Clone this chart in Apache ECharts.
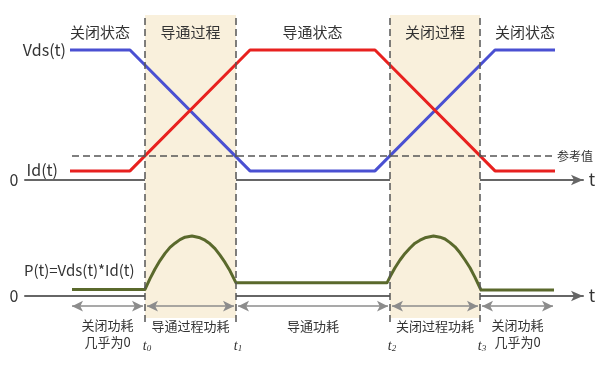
<!DOCTYPE html>
<html>
<head>
<meta charset="utf-8">
<script src="https://cdn.jsdelivr.net/npm/echarts@6/dist/echarts.min.js"></script>
<style>html,body{margin:0;padding:0;background:#fff}#c{width:604px;height:380px}</style>
</head>
<body>
<div id="c"></div>
<script>
// ---- data (time in arbitrary units, levels normalised) ----
const waveT = [4.5, 10.5, 22.5, 35, 47, 53];
const vdsV = [1, 1, 0.07, 0.07, 1, 1];
const idV = [0.07, 0.07, 1, 1, 0.07, 0.07];
const refLevel = 0.185;
const refSpan = [4.7, 52.8];
const switchT = [12, 21.1, 36.5, 45.5];
const switchNames = ['0', '1', '2', '3'];
const powerT = [4.7, 12, 12.5, 13, 13.5, 14, 14.5, 15, 15.5, 16, 16.7, 17.5, 18, 18.5, 19, 19.5, 20, 20.5, 21.1,
  36.2, 36.5, 37, 37.5, 38, 38.5, 39, 39.5, 40, 40.85, 41.5, 42, 42.5, 43, 43.5, 44, 44.5, 45, 45.6, 52.9];
const powerV = [0.11, 0.11, 0.29, 0.45, 0.59, 0.71, 0.81, 0.88, 0.94, 0.98, 1.0, 0.97, 0.93, 0.87, 0.79, 0.68, 0.56, 0.42, 0.22,
  0.22, 0.32, 0.47, 0.60, 0.71, 0.80, 0.88, 0.93, 0.97, 1.0, 0.98, 0.95, 0.89, 0.82, 0.72, 0.60, 0.47, 0.31, 0.10, 0.10];
const stateNames = ['关闭状态', '导通过程', '导通状态', '关闭过程', '关闭状态'];
const stateSpans = [[4.5, 10.5], [12, 21.1], [22.5, 35], [36.5, 45.5], [47, 53]];
const lossNames = ['关闭功耗\n几乎为0', '导通过程功耗', '导通功耗', '关闭过程功耗', '关闭功耗\n几乎为0'];
const lossEdges = [4.5, 12, 21.1, 36.5, 45.5, 53];
const shadedPhases = [[12, 21.1], [36.5, 45.5]];

const FONT = '"Noto Sans CJK SC", "Noto Sans", sans-serif';
const chart = echarts.init(document.getElementById('c'), null, {renderer: 'canvas'});
const XMAX = 55.8;
const axisLineStyle = {onZero: true, symbol: ['none', 'arrow'], symbolSize: [8, 12], lineStyle: {color: '#666', width: 2}};

chart.setOption({
  animation: false,
  grid: [
    {left: 25, right: 21, top: 11, bottom: 161},
    {left: 25, right: 21, top: 224, bottom: 24},
    {left: 25, right: 21, top: 15, bottom: 58}
  ],
  xAxis: [
    {gridIndex: 0, type: 'value', min: 0, max: XMAX, axisLine: axisLineStyle, axisTick: {show: false}, axisLabel: {show: false}, splitLine: {show: false}},
    {gridIndex: 1, type: 'value', min: 0, max: XMAX, axisLine: axisLineStyle, axisTick: {show: false}, axisLabel: {show: false}, splitLine: {show: false}},
    {gridIndex: 2, type: 'value', min: 0, max: XMAX, show: false}
  ],
  yAxis: [
    {gridIndex: 0, type: 'value', min: -0.3, max: 1.3, show: false},
    {gridIndex: 1, type: 'value', min: -1, max: 1.2, show: false},
    {gridIndex: 2, type: 'value', min: 0, max: 1, show: false}
  ],
  series: [
    {
      type: 'line', xAxisIndex: 2, yAxisIndex: 2, z: 1, silent: true,
      data: switchT.map(t => [t, 0.5]), symbol: 'none', lineStyle: {opacity: 0},
      markArea: {silent: true, itemStyle: {color: '#f9f0dc'},
        data: shadedPhases.map(p => [{xAxis: p[0], yAxis: 0.013}, {xAxis: p[1], yAxis: 1}])},
      markLine: {silent: true, symbol: 'none', label: {show: false},
        lineStyle: {type: [7, 4], color: '#555', width: 1.5},
        data: switchT.map(t => ({xAxis: t}))}
    },
    {
      type: 'line', xAxisIndex: 0, yAxisIndex: 0, z: 3, symbol: 'none',
      data: waveT.map((t, i) => [t, vdsV[i]]), lineStyle: {color: '#4a50d2', width: 3}
    },
    {
      type: 'line', xAxisIndex: 0, yAxisIndex: 0, z: 4, symbol: 'none',
      data: waveT.map((t, i) => [t, idV[i]]), lineStyle: {color: '#e8211f', width: 3},
      markLine: {silent: true, symbol: 'none',
        lineStyle: {type: [7, 4], color: '#555', width: 1.5},
        label: {show: true, position: 'end', formatter: '参考值', color: '#333', fontSize: 12, fontFamily: FONT, distance: 4},
        data: [[{coord: [refSpan[0], refLevel]}, {coord: [refSpan[1], refLevel]}]]}
    },
    {
      type: 'line', xAxisIndex: 1, yAxisIndex: 1, z: 3, symbol: 'none', smooth: false,
      data: powerT.map((t, i) => [t, powerV[i]]), lineStyle: {color: '#5a692c', width: 3, join: 'round'},
      markLine: {silent: true, symbol: ['arrow', 'arrow'], symbolSize: [8, 11], label: {show: false},
        lineStyle: {type: 'solid', color: '#8c8c8c', width: 1.5},
        data: lossNames.map((n, i) => [{coord: [lossEdges[i] + 0.2, -0.17]}, {coord: [lossEdges[i + 1] - 0.2, -0.17]}])}
    }
  ]
});

function px(grid, x, y) { return chart.convertToPixel({xAxisIndex: grid, yAxisIndex: grid}, [x, y]); }
const g = [];
function txt(text, x, y, size, align, extra) {
  g.push({type: 'text', silent: true, z: 10, style: Object.assign({text: text, x: x, y: y, fill: '#333', font: size + 'px ' + FONT, align: align || 'center', verticalAlign: 'middle'}, extra || {})});
}
const top0 = px(0, 0, 0), bot0 = px(1, 0, 0);
stateNames.forEach((n, i) => {
  const c = px(0, (stateSpans[i][0] + stateSpans[i][1]) / 2, 1.14);
  txt(n, c[0], c[1], 15);
});
lossNames.forEach((n, i) => {
  const c = px(1, (lossEdges[i] + lossEdges[i + 1]) / 2, 0);
  txt(n, c[0], bot0[1] + 30 + (n.indexOf('\n') >= 0 ? 8 : 0), 13, 'center', {lineHeight: 17});
});
switchT.forEach((t, i) => {
  const c = px(1, t, 0);
  g.push({type: 'text', silent: true, z: 10, style: {text: '{i|t}{s|' + switchNames[i] + '}', x: c[0] + 2, y: bot0[1] + 50, align: 'center', verticalAlign: 'middle',
    rich: {i: {fontStyle: 'italic', fontSize: 14, fontFamily: 'Liberation Serif', fill: '#333'}, s: {fontStyle: 'italic', fontSize: 9, fontFamily: 'Liberation Serif', fill: '#333', padding: [6, 0, 0, 0]}}}});
});
const vStart = px(0, waveT[0], vdsV[0]);
const iStart = px(0, waveT[0], idV[0]);
txt('Vds(t)', vStart[0] - 4, vStart[1], 16, 'right');
txt('Id(t)', iStart[0] - 12, iStart[1] - 1, 16, 'right');
txt('0', 14, top0[1], 16);
txt('0', 14, bot0[1], 16);
txt('P(t)=Vds(t)*Id(t)', 24, bot0[1] - 26, 15, 'left');
txt('t', 592, top0[1], 17);
txt('t', 592, bot0[1], 17);
chart.setOption({graphic: g});
</script>
</body>
</html>
